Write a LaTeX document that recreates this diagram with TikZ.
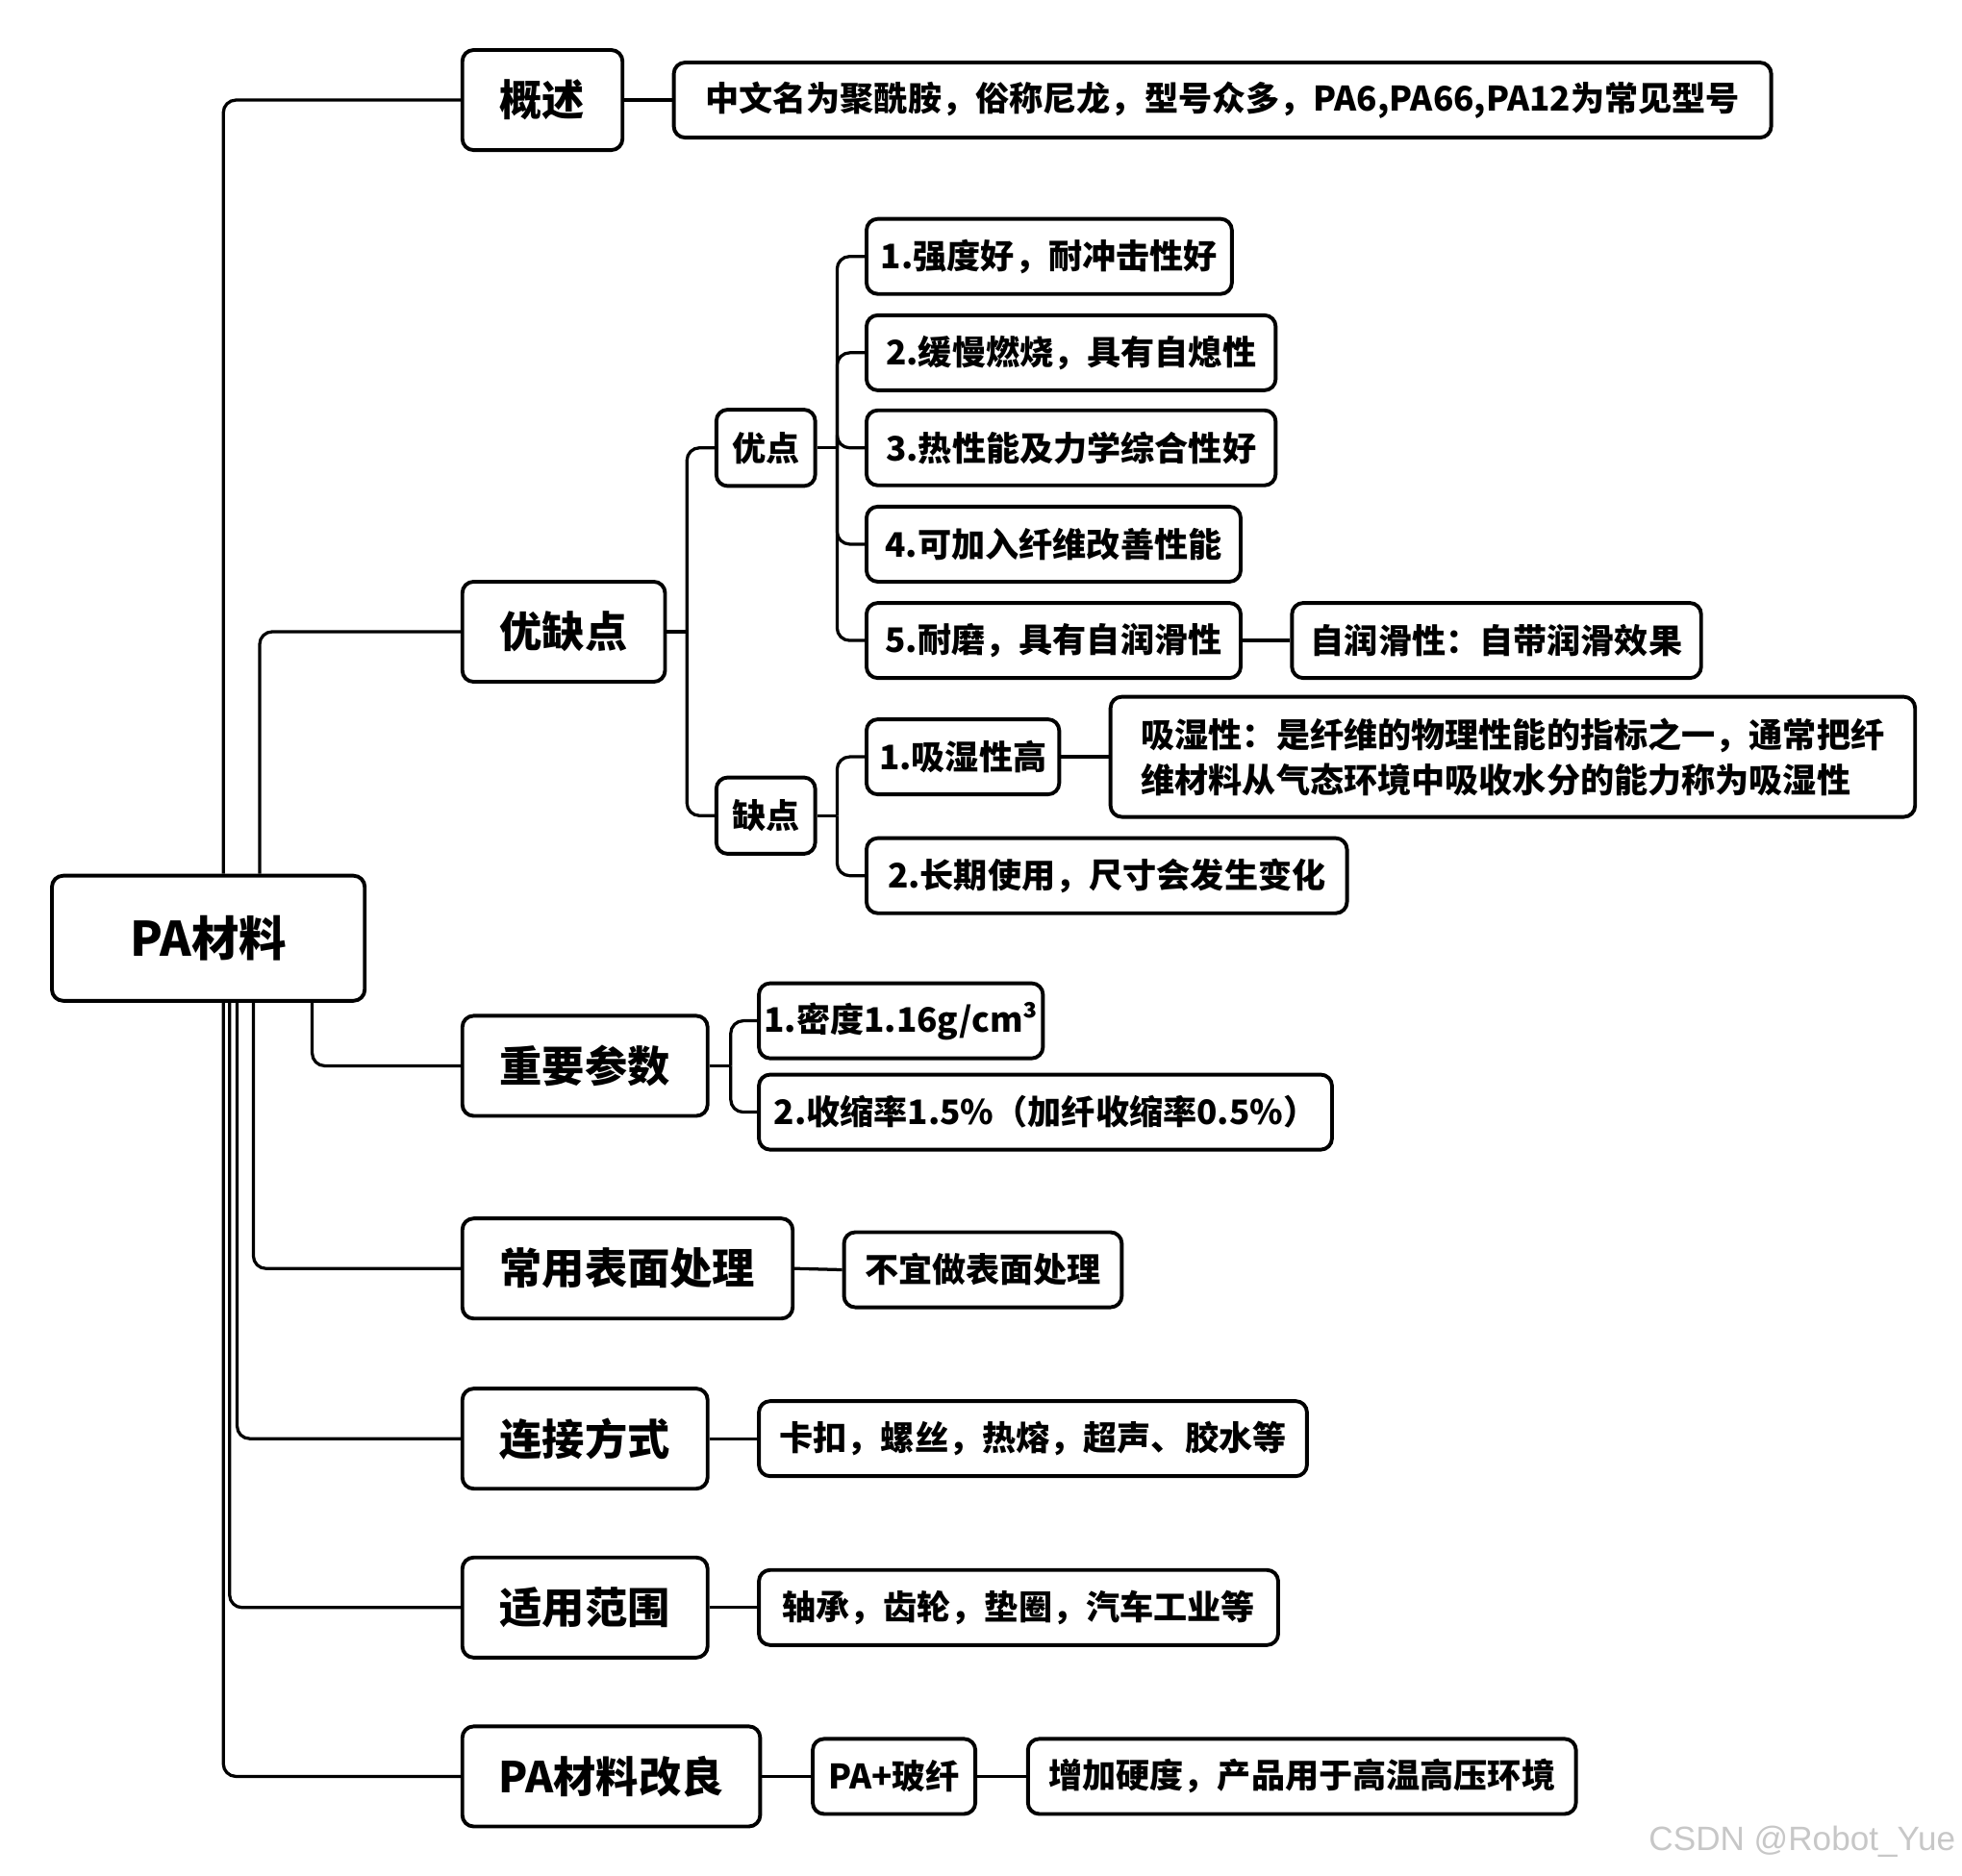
\documentclass[tikz,border=0pt]{standalone}
\usepackage{fontspec}
\setmainfont{Noto Sans CJK SC}[BoldFont={Noto Sans CJK SC Black}]
\newfontfamily\markfont{Liberation Sans}
\begin{document}
\begin{tikzpicture}[line join=round,
  box/.style={draw,line width=3bp,rounded corners=9bp,anchor=west,inner xsep=10bp,inner ysep=0bp,
    minimum height=60bp,font=\bfseries\fontsize{27bp}{36bp}\selectfont},
  topic/.style={box,minimum height=80bp,font=\bfseries\fontsize{34bp}{40bp}\selectfont},
  link/.style={line width=2.5bp,rounded corners=10bp}]
\useasboundingbox (0bp,0bp) rectangle (1568bp,1499bp);
%%
\node (root) at (40bp,749bp) [box,minimum width=250bp,minimum height=100bp,font=\bfseries\fontsize{38bp}{44bp}\selectfont] {PA材料};
%
\node (gaishu) at (368bp,1419bp) [topic,minimum width=128bp] {概述};
  \node (youque) at (368bp,994bp) [topic,minimum width=162bp] {优缺点};
  \node (canshu) at (368bp,647bp) [topic,minimum width=196bp] {重要参数};
  \node (biaomian) at (368bp,485bp) [topic,minimum width=264bp] {常用表面处理};
  \node (lianjie) at (368bp,349bp) [topic,minimum width=196bp] {连接方式};
  \node (fanwei) at (368bp,214bp) [topic,minimum width=196bp] {适用范围};
  \node (gailiang) at (368bp,79bp) [topic,minimum width=238bp] {PA材料改良};
%
\node (gaishu_1) at (537bp,1419bp) [box,minimum width=877bp] {中文名为聚酰胺，俗称尼龙，型号众多，PA6,PA66,PA12为常见型号};
%
\node (you) at (571bp,1141bp) [box,minimum width=79bp,minimum height=61bp,inner xsep=6bp] {优点};
  \node (que) at (571bp,847bp) [box,minimum width=79bp,minimum height=61bp,inner xsep=6bp] {缺点};
  \node (you_1) at (691bp,1294bp) [box,minimum width=292bp] {1.强度好，耐冲击性好};
  \node (you_2) at (691bp,1217bp) [box,minimum width=327bp] {2.缓慢燃烧，具有自熄性};
  \node (you_3) at (691bp,1141bp) [box,minimum width=327bp] {3.热性能及力学综合性好};
  \node (you_4) at (691bp,1064bp) [box,minimum width=299bp] {4.可加入纤维改善性能};
  \node (you_5) at (691bp,987bp) [box,minimum width=299bp] {5.耐磨，具有自润滑性};
  \node (you_5a) at (1031bp,987bp) [box,minimum width=327bp] {自润滑性：自带润滑效果};
  \node (que_1) at (691bp,894bp) [box,minimum width=154bp] {1.吸湿性高};
  \node (que_1a) at (886bp,894bp) [box,minimum width=643bp,minimum height=96bp,align=left] {吸湿性：是纤维的物理性能的指标之一，通常把纤\\维材料从气态环境中吸收水分的能力称为吸湿性};
  \node (que_2) at (691bp,799bp) [box,minimum width=384bp] {2.长期使用，尺寸会发生变化};
%
\node (canshu_1) at (605bp,683bp) [box,minimum width=227bp,inner xsep=4bp] {1.密度1.16g/cm³};
  \node (canshu_2) at (605bp,610bp) [box,minimum width=458bp] {2.收缩率1.5\%（加纤收缩率0.5\%）};
  \node (biaomian_1) at (673bp,484bp) [box,minimum width=222bp] {不宜做表面处理};
  \node (lianjie_1) at (605bp,349bp) [box,minimum width=438bp] {卡扣，螺丝，热熔，超声、胶水等};
  \node (fanwei_1) at (605bp,214bp) [box,minimum width=415bp] {轴承，齿轮，垫圈，汽车工业等};
  \node (gailiang_1) at (648bp,79bp) [box,minimum width=130bp] {PA+玻纤};
  \node (gailiang_2) at (820bp,79bp) [box,minimum width=438bp] {增加硬度，产品用于高温高压环境};
%
\node (mark) at (1563bp,27bp) [anchor=east,inner sep=0bp,text=black!22,font=\markfont\fontsize{27bp}{30bp}\selectfont] {CSDN @Robot\_Yue};
%% root branches
\draw [link] ([xshift=12bp]root.north) |- (gaishu.west);
  \draw [link] ([xshift=41bp]root.north) |- (youque.west);
  \draw [link] ([xshift=83bp]root.south) |- (canshu.west);
  \draw [link] ([xshift=36bp]root.south) |- (biaomian.west);
  \draw [link] ([xshift=23bp]root.south) |- (lianjie.west);
  \draw [link] ([xshift=17bp]root.south) |- (fanwei.west);
  \draw [link] ([xshift=12bp]root.south) |- (gailiang.west);
%% forks
\coordinate (youque_fork) at (549bp,994bp);
  \coordinate (you_fork) at (669bp,1141bp);
  \coordinate (que_fork) at (669bp,847bp);
  \coordinate (canshu_fork) at (584bp,647bp);
  \draw [link] (youque.east) -- (youque_fork);
  \draw [link] (youque_fork) |- (you.west);
  \draw [link] (youque_fork) |- (que.west);
  \draw [link] (you.east) -- (you_fork);
  \foreach \n in {you_1,you_2,you_3,you_4,you_5}
    \draw [link] (you_fork) |- (\n.west);
  \draw [link] (que.east) -- (que_fork);
  \draw [link] (que_fork) |- (que_1.west);
  \draw [link] (que_fork) |- (que_2.west);
  \draw [link] (canshu.east) -- (canshu_fork);
  \draw [link] (canshu_fork) |- (canshu_1.west);
  \draw [link] (canshu_fork) |- (canshu_2.west);
%% single links
\draw [link] (gaishu.east) -- (gaishu_1.west);
  \draw [link] (you_5.east) -- (you_5a.west);
  \draw [link] (que_1.east) -- (que_1a.west);
  \draw [link] (biaomian.east) -- (biaomian_1.west);
  \draw [link] (lianjie.east) -- (lianjie_1.west);
  \draw [link] (fanwei.east) -- (fanwei_1.west);
  \draw [link] (gailiang.east) -- (gailiang_1.west);
  \draw [link] (gailiang_1.east) -- (gailiang_2.west);
%
\end{tikzpicture}
\end{document}
